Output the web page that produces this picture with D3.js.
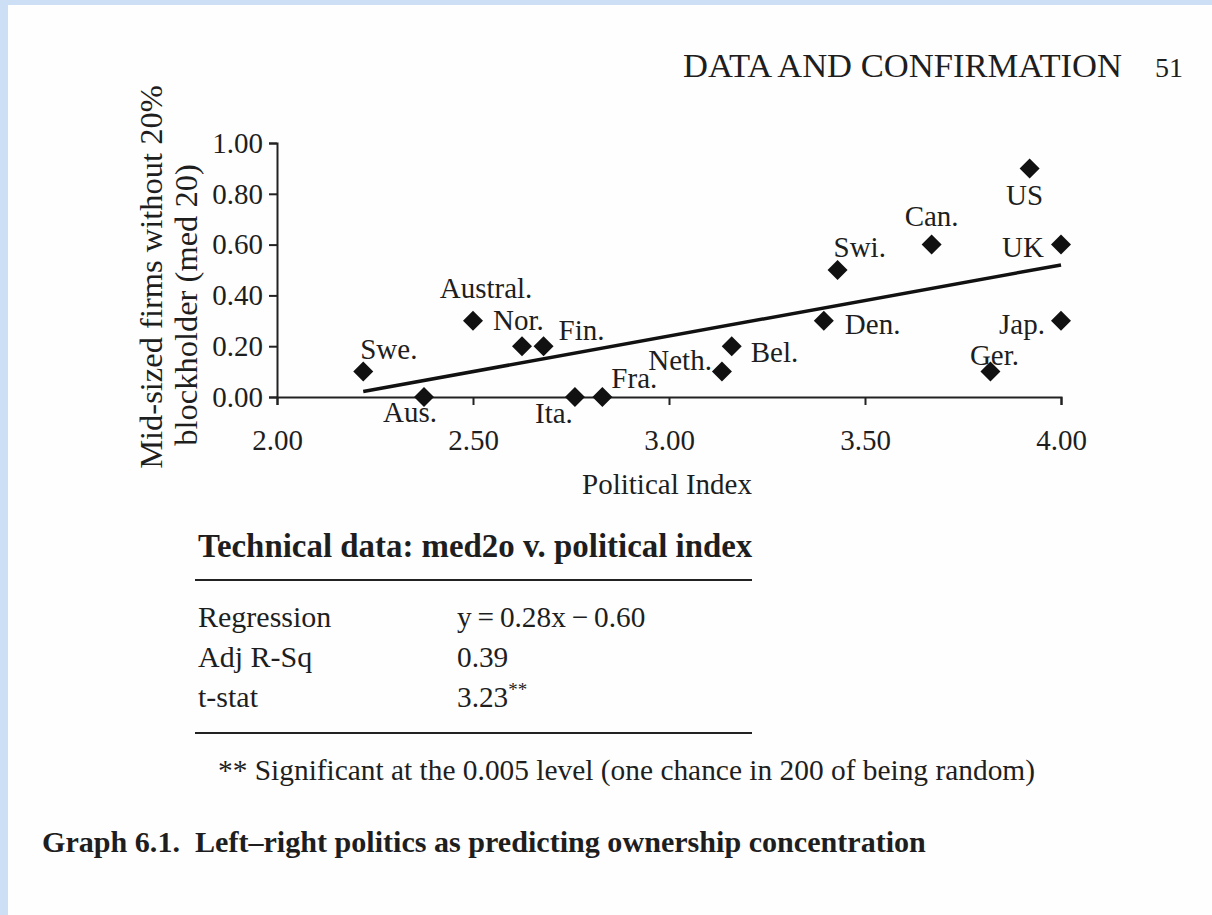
<!DOCTYPE html>
<html>
<head>
<meta charset="utf-8">
<script src="https://cdn.jsdelivr.net/npm/d3@7"></script>
<style>
  body { margin: 0; background: #cddff4; }
  svg text { font-family: "Liberation Serif", "DejaVu Serif", serif; fill: #1e1e1e; }
</style>
</head>
<body>
<div id="chart"></div>
<script>
// data
var countries = ["Swe.", "Aus.", "Austral.", "Nor.", "Fin.", "Ita.", "Fra.", "Neth.", "Bel.", "Den.", "Swi.", "Can.", "US", "UK", "Jap.", "Ger."];
var politicalIndex = [2.22, 2.375, 2.50, 2.625, 2.68, 2.76, 2.83, 3.135, 3.16, 3.395, 3.43, 3.67, 3.92, 4.00, 4.00, 3.82];
var med20 = [0.10, 0.00, 0.30, 0.20, 0.20, 0.00, 0.00, 0.10, 0.20, 0.30, 0.50, 0.60, 0.90, 0.60, 0.30, 0.10];
var xTicks = [2.0, 2.5, 3.0, 3.5, 4.0];
var yTicks = [0, 0.2, 0.4, 0.6, 0.8, 1.0];
var slope = 0.28, intercept = -0.60;

var techRows = ["Regression", "Adj R-Sq", "t-stat"];
var techValues = ["y\u2009=\u20090.28x\u2009\u2212\u20090.60", "0.39", "3.23"];

// where each country's label sits, relative to its diamond [dx, dy, anchor]
var labelPos = {
    "Swe.": [-3, -13, "start"],
    "Aus.": [-14, 25, "middle"],
    "Austral.": [13, -23, "middle"],
    "Nor.": [-29, -16, "start"],
    "Fin.": [15, -6, "start"],
    "Ita.": [-21, 26, "middle"],
    "Fra.": [9, -9, "start"],
    "Neth.": [-10, -2, "end"],
    "Bel.": [19, 16, "start"],
    "Den.": [21, 13, "start"],
    "Swi.": [-4, -13, "start"],
    "Can.": [0, -19, "middle"],
    "US": [-5, 37, "middle"],
    "UK": [-17, 12, "end"],
    "Jap.": [-16, 13, "end"],
    "Ger.": [4, -7, "middle"]
};

var width = 1212, height = 915;

var svg = d3.select("#chart").append("svg")
    .attr("width", width)
    .attr("height", height);

// page
svg.append("rect")
    .attr("x", 8).attr("y", 5)
    .attr("width", width - 8).attr("height", height - 5)
    .attr("fill", "#fefefe");

// running head
svg.append("text")
    .attr("x", 1122).attr("y", 77)
    .attr("text-anchor", "end")
    .style("font-size", "34.6px")
    .text("DATA AND CONFIRMATION");
svg.append("text")
    .attr("x", 1183).attr("y", 77)
    .attr("text-anchor", "end")
    .style("font-size", "28px")
    .text("51");

var x = d3.scaleLinear().domain([2, 4]).range([277, 1061]);
var y = d3.scaleLinear().domain([0, 1]).range([397, 143]);

var xAxis = svg.append("g")
    .attr("transform", "translate(0," + y(0) + ")")
    .call(d3.axisBottom(x).tickValues(xTicks).tickFormat(d3.format(".2f")).tickSize(8).tickPadding(24));

var yAxis = svg.append("g")
    .attr("transform", "translate(" + x(2) + ",0)")
    .call(d3.axisLeft(y).tickValues(yTicks).tickFormat(d3.format(".2f")).tickSize(8).tickPadding(6));

[xAxis, yAxis].forEach(function(a) {
    a.select(".domain").attr("stroke", "#222").attr("stroke-width", 2);
    a.selectAll(".tick line").attr("stroke", "#222").attr("stroke-width", 2);
    a.selectAll(".tick text")
        .style("font-family", '"Liberation Serif", serif')
        .style("font-size", "29px")
        .attr("fill", "#2a2a2a");
});

// axis titles
svg.append("text")
    .attr("x", 667).attr("y", 494)
    .attr("text-anchor", "middle")
    .style("font-size", "29px")
    .text("Political Index");

svg.append("text")
    .attr("transform", "translate(162,277) rotate(-90)")
    .attr("text-anchor", "middle")
    .style("font-size", "32.5px")
    .text("Mid-sized firms without 20%");
svg.append("text")
    .attr("transform", "translate(197,305) rotate(-90)")
    .attr("text-anchor", "middle")
    .style("font-size", "32.5px")
    .text("blockholder (med 20)");

// regression line
var xMin = d3.min(politicalIndex);
svg.append("line")
    .attr("x1", x(xMin)).attr("y1", y(slope * xMin + intercept))
    .attr("x2", x(4)).attr("y2", y(slope * 4 + intercept))
    .attr("stroke", "#111")
    .attr("stroke-width", 3.5);

var points = countries.map(function(c, i) {
    return { name: c, px: politicalIndex[i], v: med20[i] };
});

svg.append("g")
    .selectAll("path")
    .data(points)
    .enter().append("path")
    .attr("d", d3.symbol().type(d3.symbolSquare).size(200))
    .attr("transform", d => "translate(" + x(d.px) + "," + y(d.v) + ") rotate(45)")
    .attr("fill", "#111");

svg.append("g")
    .selectAll("text")
    .data(points)
    .enter().append("text")
    .attr("x", d => x(d.px) + labelPos[d.name][0])
    .attr("y", d => y(d.v) + labelPos[d.name][1])
    .attr("text-anchor", d => labelPos[d.name][2])
    .style("font-size", "29px")
    .text(d => d.name);

// technical data block
svg.append("text")
    .attr("x", 198).attr("y", 557)
    .style("font-size", "32.9px")
    .style("font-weight", "bold")
    .text("Technical data: med2o v. political index");

svg.append("line")
    .attr("x1", 195).attr("x2", 752).attr("y1", 580).attr("y2", 580)
    .attr("stroke", "#222").attr("stroke-width", 2);
svg.append("line")
    .attr("x1", 195).attr("x2", 752).attr("y1", 733).attr("y2", 733)
    .attr("stroke", "#222").attr("stroke-width", 2);

var rows = svg.append("g").selectAll("g")
    .data(techRows)
    .enter().append("g")
    .attr("transform", (d, i) => "translate(0," + (627 + i * 40) + ")");
rows.append("text")
    .attr("x", 198)
    .style("font-size", "30px")
    .text(d => d);
rows.append("text")
    .attr("x", 457)
    .style("font-size", "29.3px")
    .text((d, i) => techValues[i])
    .filter((d, i) => i == 2)
    .append("tspan")
    .attr("dy", -11)
    .style("font-size", "19px")
    .text("**");

svg.append("text")
    .attr("x", 218).attr("y", 780)
    .style("font-size", "29.4px")
    .text("** Significant at the 0.005 level (one chance in 200 of being random)");

svg.append("text")
    .attr("x", 42).attr("y", 852)
    .style("font-size", "30.1px")
    .style("font-weight", "bold")
    .text("Graph 6.1.\u2002Left\u2013right politics as predicting ownership concentration");
</script>
</body>
</html>
